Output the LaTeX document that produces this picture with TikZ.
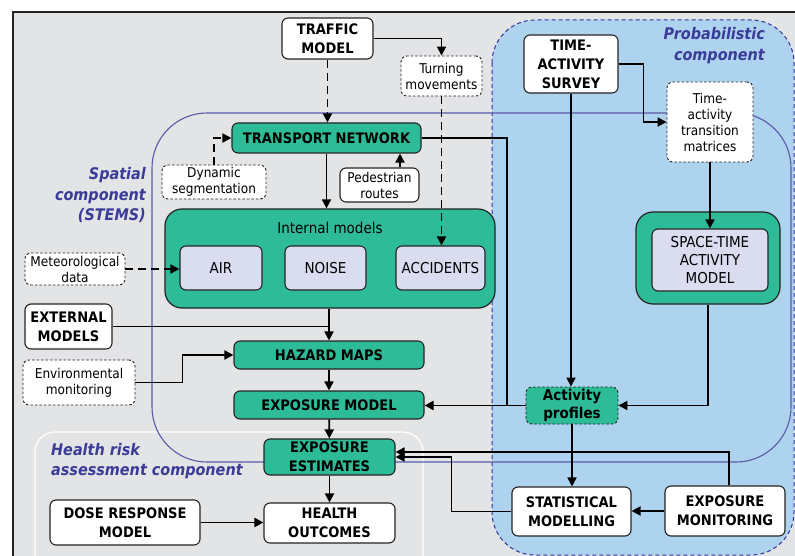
\documentclass[tikz,border=0pt]{standalone}
\usepackage{fontspec}
\setmainfont{DejaVu Sans Condensed}
\usetikzlibrary{arrows.meta}
\definecolor{bggray}{RGB}{227,228,230}
\definecolor{probblue}{RGB}{174,211,238}
\definecolor{probedge}{RGB}{50,50,160}
\definecolor{mygreen}{RGB}{46,187,152}
\definecolor{lav}{RGB}{218,220,240}
\definecolor{spat}{RGB}{90,90,168}
\definecolor{lbl}{RGB}{59,59,152}
\definecolor{edgecol}{RGB}{35,35,35}
\tikzset{
  sz/.style 2 args={minimum width=#1pt, minimum height=#2pt},
  box/.style={draw=edgecol, line width=1.1pt, rounded corners=6pt, align=center, inner sep=0pt,
    fill=white, font=\fontsize{14.5}{19}\selectfont\bfseries},
  wbox/.style={box},
  gbox/.style={box, fill=mygreen},
  dbox/.style={box, line width=0.9pt, dash pattern=on 2.5pt off 2pt, font=\fontsize{13.5}{16}\selectfont},
  lbox/.style={box, fill=lav, font=\fontsize{15}{18}\selectfont},
  cont/.style={draw=edgecol, line width=1.2pt, fill=mygreen, rounded corners=17pt, inner sep=0pt},
  arr/.style={-{Triangle[length=9pt,width=9pt]}, line width=1.8pt, draw=black},
  darr/.style={arr, dash pattern=on 8pt off 5pt},
  lab/.style={text=lbl, inner sep=0pt, font=\fontsize{16}{20.5}\selectfont\bfseries\itshape},
}
\begin{document}
\begin{tikzpicture}[x=1pt,y=-1pt]
\useasboundingbox (0,0) rectangle (795,556);
% background regions
\draw[fill=bggray, draw=edgecol, line width=1.2pt] (13,12) rectangle (805,570);
\draw[fill=probblue, draw=probedge, line width=1pt, dash pattern=on 4pt off 3pt, rounded corners=43pt] (492,20) rectangle (794,555);
\draw[draw=white, line width=1.2pt, rounded corners=20pt] (35,432) rectangle (423,590);
\draw[draw=spat, line width=1.1pt, rounded corners=55pt] (152,113) rectangle (791,462);
% region labels
\node[lab, anchor=east, align=right] (spatlab) at (146,195) {Spatial\\component\\(STEMS)};
\node[lab, anchor=east, align=right] (problab) at (765,45.5) {Probabilistic\\component};
\node[lab, anchor=west, align=left] (healthlab) at (51,461) {Health risk\\assessment component};
% containers
\node[cont, sz={330}{99}] (internal) at (330,258.5) {};
\node[inner sep=0pt, font=\fontsize{15}{18}\selectfont] (intlab) at (330,228) {Internal models};
\node[cont, sz={144}{92}] (stamc) at (708,258) {};
% nodes
\node[wbox, sz={91}{41}] (traffic) at (327.5,38.5) {TRAFFIC\\MODEL};
\node[dbox, sz={81}{40}] (turning) at (441.5,76) {Turning\\movements};
\node[gbox, sz={189}{30}] (tn) at (326.5,138) {TRANSPORT NETWORK};
\node[dbox, sz={104}{34}] (dynseg) at (214,182) {Dynamic\\segmentation};
\node[box, font=\fontsize{13.5}{16}\selectfont, sz={79}{34}] (ped) at (379.5,185) {Pedestrian\\routes};
\node[lbox, sz={82}{44}] (air) at (221,268) {AIR};
\node[lbox, sz={81}{44}] (noise) at (325.5,268) {NOISE};
\node[lbox, sz={89}{44}] (acc) at (440.5,268) {ACCIDENTS};
\node[dbox, sz={100}{32}] (met) at (75,269) {Meteorological\\data};
\node[wbox, sz={87}{45}] (ext) at (68.5,326.5) {EXTERNAL\\MODELS};
\node[dbox, sz={112}{45}] (envmon) at (79,382.5) {Environmental\\monitoring};
\node[gbox, sz={190}{28}] (hazard) at (329,355) {HAZARD MAPS};
\node[gbox, sz={190}{28}] (expmodel) at (329,405) {EXPOSURE MODEL};
\node[gbox, sz={131}{36}] (est) at (329.5,457) {EXPOSURE\\ESTIMATES};
\node[wbox, sz={131}{40}] (health) at (329.5,523) {HEALTH\\OUTCOMES};
\node[wbox, sz={150}{45}] (dose) at (125,522.5) {DOSE RESPONSE\\MODEL};
\node[wbox, sz={94}{58}] (survey) at (571,64) {TIME-\\ACTIVITY\\SURVEY};
\node[dbox, sz={86}{80}] (tatm) at (710,122) {Time-\\activity\\transition\\matrices};
\node[lbox, sz={116}{62}] (stam) at (710,260) {SPACE-TIME\\ACTIVITY\\MODEL};
\node[gbox, line width=0.9pt, dash pattern=on 2.5pt off 2pt, font=\fontsize{15}{17.5}\selectfont\bfseries, sz={92}{37}] (prof) at (572,405.5) {Activity\\profiles};
\node[wbox, sz={119}{49}] (stat) at (571.5,511.5) {STATISTICAL\\MODELLING};
\node[wbox, sz={120}{50}] (expmon) at (725,511) {EXPOSURE\\MONITORING};
\coordinate (tnj) at (507,405);
% connectors
\draw[darr] (traffic.south) -- (traffic.south |- tn.north);
\draw[arr] (traffic.east) -| (turning.north);
\draw[darr] (turning.south) -- (turning.south |- acc.north);
\draw[darr] (dynseg.north) |- (tn.west);
\draw[arr] ([xshift=20.5pt]ped.north) -- ([xshift=20.5pt]ped.north |- tn.south);
\draw[arr] (tn.south) -- (tn.south |- internal.north);
\draw[line width=1.8pt] (tn.east) -| (tnj);
\draw[darr] (met.east) -- (met.east -| air.west);
\draw[arr] (hazard.north |- internal.south) -- (hazard.north);
\draw[line width=1.8pt] (ext.east) -- (ext.east -| hazard.north);
\draw[arr] (envmon.east) -- ++(47,0) |- (hazard.west);
\draw[arr] (hazard) -- (expmodel);
\draw[arr] (expmodel) -- (est);
\draw[arr] (est) -- (health);
\draw[arr] (dose.east) -- (dose.east -| health.west);
\draw[arr] (survey.east) -- ++(25,0) |- (tatm.west);
\draw[arr] (survey.south) -- (survey.south |- prof.north);
\draw[arr] (tatm.south) -- (tatm.south |- stam.north);
\draw[arr] (stamc.south) |- (prof.east);
\draw[arr] (prof.west) -- (prof.west -| expmodel.east);
\draw[arr] (prof.south) -- (prof.south |- stat.north);
\draw[arr] (expmon.west) -- (expmon.west -| stat.east);
\draw[arr] ([xshift=4pt]expmon.north) |- ([yshift=5pt]est.east);
\draw[arr] (stat.west) -- ++(-60,0) |- (est.east);
\end{tikzpicture}
\end{document}
